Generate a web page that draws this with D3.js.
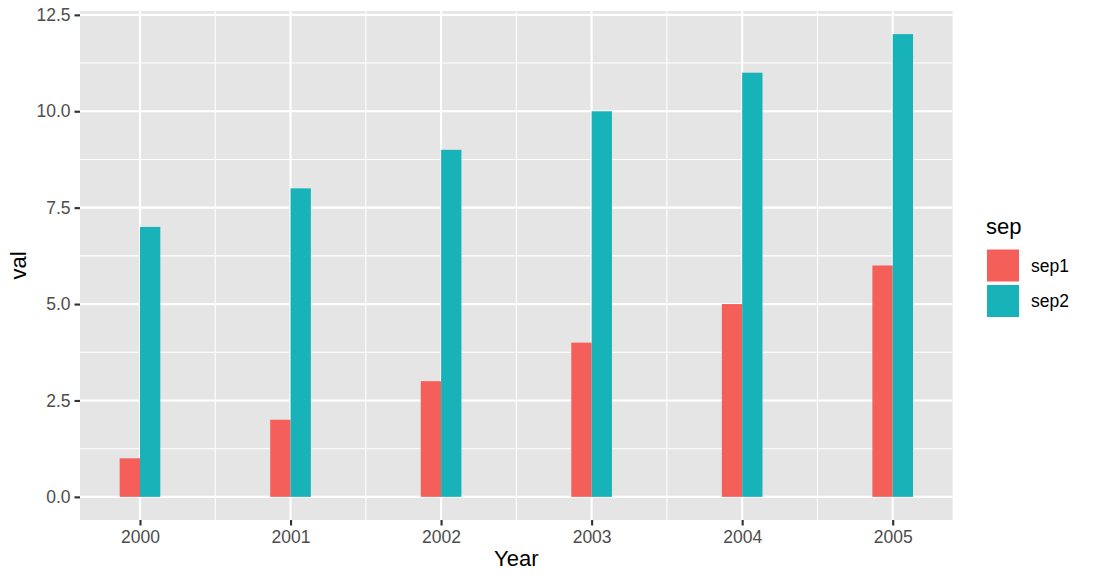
<!DOCTYPE html>
<html><head><meta charset="utf-8">
<script src="https://cdn.jsdelivr.net/npm/d3@7"></script>
<style>body{margin:0;background:#fff}svg{display:block}text{font-family:"Liberation Sans",Arial,sans-serif}</style>
</head><body>
<script>
const years = [2000, 2001, 2002, 2003, 2004, 2005];
const seriesNames = ["sep1", "sep2"];
const sep1 = [1, 2, 3, 4, 5, 6];
const sep2 = [7, 8, 9, 10, 11, 12];
const yTicks = [0, 2.5, 5, 7.5, 10, 12.5];
const colors = ["#F55F5A", "#17B3B8"];

const W = 1104, H = 582;
const P = {l: 80, r: 952.7, t: 11, b: 520};
const svg = d3.select("body").append("svg").attr("width", W).attr("height", H);

const barW = 0.135;
const xmin = years[0] - barW, xmax = years[years.length-1] + barW;
const xe = (xmax - xmin) * 0.05;
const x = d3.scaleLinear().domain([xmin - xe, xmax + xe]).range([P.l, P.r]);
const ymaxD = d3.max(sep2), ye = ymaxD * 0.05;
const y = d3.scaleLinear().domain([-ye, ymaxD + ye]).range([P.b, P.t]);

svg.append("rect").attr("x", P.l).attr("y", P.t).attr("width", P.r - P.l).attr("height", P.b - P.t).attr("fill", "#E5E5E5");

// minor grid
const xMinor = d3.range(years[0] - 0.5, years[years.length-1] + 1, 1).filter(v => v > x.domain()[0] && v < x.domain()[1]);
const yMinor = yTicks.slice(0, -1).map(v => v + 1.25);
const g = svg.append("g");
g.selectAll(".xmin").data(xMinor).join("line").attr("x1", d => x(d)).attr("x2", d => x(d)).attr("y1", P.t).attr("y2", P.b).attr("stroke", "#fff").attr("stroke-width", 1.07);
g.selectAll(".ymin").data(yMinor).join("line").attr("y1", d => y(d)).attr("y2", d => y(d)).attr("x1", P.l).attr("x2", P.r).attr("stroke", "#fff").attr("stroke-width", 1.07);
g.selectAll(".xmaj").data(years).join("line").attr("x1", d => x(d)).attr("x2", d => x(d)).attr("y1", P.t).attr("y2", P.b).attr("stroke", "#fff").attr("stroke-width", 2.13);
g.selectAll(".ymaj").data(yTicks).join("line").attr("y1", d => y(d)).attr("y2", d => y(d)).attr("x1", P.l).attr("x2", P.r).attr("stroke", "#fff").attr("stroke-width", 2.13);

// bars
const series = [sep1, sep2];
series.forEach((vals, si) => {
  svg.append("g").selectAll("rect").data(years.map((yr, i) => ({yr, v: vals[i]}))).join("rect")
    .attr("x", d => x(d.yr - barW + si * barW))
    .attr("width", d => x(d.yr + barW) - x(d.yr))
    .attr("y", d => y(d.v))
    .attr("height", d => y(0) - y(d.v))
    .attr("fill", colors[si]);
});

// axes
const xa = svg.append("g").attr("transform", `translate(0,${P.b})`)
  .call(d3.axisBottom(x).tickValues(years).tickFormat(d3.format("d")).tickSize(5.5).tickPadding(5));
const ya = svg.append("g").attr("transform", `translate(${P.l},0)`)
  .call(d3.axisLeft(y).tickValues(yTicks).tickFormat(d3.format(".1f")).tickSize(5.5).tickPadding(4));
[xa, ya].forEach(a => {
  a.select(".domain").remove();
  a.selectAll(".tick line").attr("stroke", "#333333").attr("stroke-width", 2.13);
  a.selectAll(".tick text").attr("fill", "#4D4D4D").style("font-size", "17.5px").style("font-family", "'Liberation Sans', Arial, sans-serif");
});

svg.append("text").attr("x", (P.l + P.r) / 2).attr("y", 566).attr("text-anchor", "middle").attr("fill", "#000").style("font-size", "22px").text("Year");
svg.append("text").attr("transform", `translate(26,${(P.t + P.b) / 2}) rotate(-90)`).attr("text-anchor", "middle").attr("fill", "#000").style("font-size", "22px").text("val");

// legend
const lg = svg.append("g");
lg.append("text").attr("x", 986).attr("y", 234).style("font-size", "22px").attr("fill", "#000").text("sep");
seriesNames.forEach((n, i) => {
  const ky = 249 + i * 35.5;
  lg.append("rect").attr("x", 986.5).attr("y", ky).attr("width", 33).attr("height", 33).attr("fill", colors[i]).attr("stroke", "#fff").attr("stroke-width", 1);
  lg.append("text").attr("x", 1031).attr("y", ky + 16.5).attr("dy", "0.35em").style("font-size", "17.5px").attr("fill", "#000").text(n);
});
</script>
</body></html>
